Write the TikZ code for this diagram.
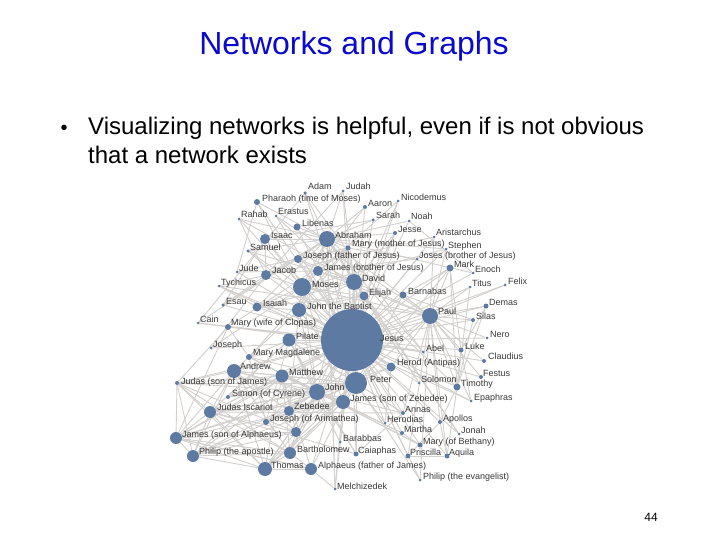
\documentclass[tikz,border=0pt]{standalone}
\usepackage{fontspec}
\setmainfont{Liberation Sans}
\usetikzlibrary{backgrounds}
\definecolor{titleblue}{RGB}{10,10,204}
\definecolor{nodeblue}{RGB}{92,122,162}
\definecolor{edgegray}{RGB}{210,207,204}
\tikzset{
  pnode/.style={circle,fill=nodeblue,draw=none,inner sep=0pt},
  lbl/.style={anchor=west,inner sep=0pt,text=black!78,font=\fontsize{9}{10}\selectfont,text height=6.5pt,text depth=1.5pt},
  edge/.style={draw=edgegray,line width=0.9pt},
  slide/.style={inner sep=0pt}
}
\newcommand\pn[7]{\node[pnode,minimum size=#4pt] (#1) at (#2,#3) {}; \node[lbl] (#1-t) at (#5,#6) {#7};}
\begin{document}
\begin{tikzpicture}[x=1pt,y=-1pt]
\useasboundingbox (0,0) rectangle (720,540);
% slide text
\node[slide,anchor=base,text=titleblue,font=\fontsize{32}{38}\selectfont] (title) at (354,55) {Networks and Graphs};
\node[slide,anchor=base,font=\fontsize{20}{24}\selectfont] (bul) at (64,135) {\textbullet};
\node[slide,anchor=base west,font=\fontsize{24}{29}\selectfont] (line1) at (88,135) {Visualizing networks is helpful, even if is not obvious};
\node[slide,anchor=base west,font=\fontsize{24}{29}\selectfont] (line2) at (88,164) {that a network exists};
\node[slide,anchor=base,font=\fontsize{12}{14}\selectfont] (pg) at (651,521) {44};
% people
\pn{adam}{305}{193}{3.5}{308}{187}{Adam}
\pn{judah}{343}{191}{3}{346}{187}{Judah}
\pn{pharaoh}{257}{202}{6}{262}{199}{Pharaoh (time of Moses)}
\pn{aaron}{365}{207}{4}{368}{204}{Aaron}
\pn{nicod}{398}{201}{3}{401}{198}{Nicodemus}
\pn{rahab}{239}{219}{3}{241}{215}{Rahab}
\pn{erastus}{276}{216}{3}{278}{212}{Erastus}
\pn{sarah}{373}{220}{3.5}{376}{216}{Sarah}
\pn{noah}{409}{221}{3}{411}{217}{Noah}
\pn{libn}{297}{227}{7}{302}{224}{Libenas}
\pn{abraham}{327}{239}{16}{335}{236}{Abraham}
\pn{isaac}{265}{239}{10}{271}{236}{Isaac}
\pn{jesse}{395}{233}{4}{398}{230}{Jesse}
\pn{arist}{434}{237}{3}{436}{233}{Aristarchus}
\pn{maryM}{348}{248}{5}{352}{244}{Mary (mother of Jesus)}
\pn{samuel}{248}{251}{3.5}{250}{248}{Samuel}
\pn{stephen}{446}{249}{3}{448}{246}{Stephen}
\pn{josephF}{298}{259}{8}{303}{256}{Joseph (father of Jesus)}
\pn{josesB}{417}{259}{3}{419}{256}{Joses (brother of Jesus)}
\pn{jude}{237}{272}{3}{239}{269}{Jude}
\pn{jacob}{266}{275}{10}{272}{271}{Jacob}
\pn{jamesB}{318}{271}{10}{324}{268}{James (brother of Jesus)}
\pn{mark}{450}{268}{7}{454}{265}{Mark}
\pn{enoch}{473}{273}{3}{475}{270}{Enoch}
\pn{david}{354}{282}{16}{362}{279}{David}
\pn{tych}{219}{286}{3}{221}{283}{Tychicus}
\pn{moses}{302}{287}{18}{312}{285}{Moses}
\pn{titus}{470}{287}{3}{472}{284}{Titus}
\pn{felix}{505}{285}{3}{508}{282}{Felix}
\pn{elijah}{364}{296}{9}{369}{293}{Elijah}
\pn{barn}{403}{295}{7}{408}{292}{Barnabas}
\pn{demas}{486}{306}{5}{489}{303}{Demas}
\pn{esau}{223}{305}{3.5}{226}{302}{Esau}
\pn{isaiah}{257}{307}{9}{263}{304}{Isaiah}
\pn{jbap}{299}{310}{14}{307}{307}{John the Baptist}
\pn{paul}{430}{316}{16}{438}{312}{Paul}
\pn{silas}{473}{320}{4}{476}{317}{Silas}
\pn{cain}{198}{323}{3}{200}{320}{Cain}
\pn{maryC}{228}{327}{6}{231}{323}{Mary (wife of Clopas)}
\pn{jesus}{352}{340}{62}{380}{339}{Jesus}
\pn{pilate}{289}{340}{13}{296}{337}{Pilate}
\pn{nero}{487}{338}{3}{490}{335}{Nero}
\pn{joseph}{211}{348}{3}{213}{345}{Joseph}
\pn{abel}{423}{352}{3}{426}{349}{Abel}
\pn{luke}{461}{350}{5}{465}{347}{Luke}
\pn{maryMag}{249}{357}{6}{253}{353}{Mary Magdalene}
\pn{claud}{484}{361}{4}{488}{357}{Claudius}
\pn{herod}{391}{367}{9}{397}{363}{Herod (Antipas)}
\pn{andrew}{234}{371}{14}{240}{367}{Andrew}
\pn{matthew}{282}{376}{13}{289}{373}{Matthew}
\pn{festus}{481}{377}{4}{483}{374}{Festus}
\pn{peter}{356}{383}{22}{370}{380}{Peter}
\pn{solomon}{419}{383}{3}{421}{380}{Solomon}
\pn{judasJ}{177}{383}{4}{181}{382}{Judas (son of James)}
\pn{john}{317}{392}{16}{325}{388}{John}
\pn{timothy}{457}{387}{7}{461}{384}{Timothy}
\pn{simonC}{228}{397}{4}{232}{394}{Simon (of Cyrene)}
\pn{jamesZ}{343}{402}{14}{350}{399}{James (son of Zebedee)}
\pn{epaph}{471}{401}{3}{474}{398}{Epaphras}
\pn{judasI}{210}{412}{12}{217}{408}{Judas Iscariot}
\pn{zeb}{289}{411}{10}{294}{407}{Zebedee}
\pn{annas}{403}{413}{4}{405}{410}{Annas}
\pn{josephA}{266}{422}{6}{270}{419}{Joseph (of Arimathea)}
\pn{herodias}{385}{423}{3}{387}{420}{Herodias}
\pn{apollos}{440}{422}{4}{443}{419}{Apollos}
\pn{martha}{402}{433}{4}{404}{430}{Martha}
\pn{jonah}{459}{434}{3}{461}{431}{Jonah}
\pn{jamesA}{176}{438}{12}{182}{435}{James (son of Alphaeus)}
\node[pnode,minimum size=10pt] (unl) at (296,432) {};
\pn{barab}{340}{442}{3}{343}{439}{Barabbas}
\pn{maryB}{420}{445}{5}{423}{442}{Mary (of Bethany)}
\pn{philipA}{193}{456}{12}{199}{452}{Philip (the apostle)}
\pn{barth}{290}{453}{12}{297}{450}{Bartholomew}
\pn{caiaphas}{356}{454}{5}{358}{451}{Caiaphas}
\pn{prisc}{408}{456}{5}{410}{453}{Priscilla}
\pn{aquila}{447}{456}{5}{449}{453}{Aquila}
\pn{thomas}{265}{469}{14}{271}{466}{Thomas}
\pn{alph}{311}{469}{12}{318}{466}{Alphaeus (father of James)}
\pn{philipE}{420}{480}{3}{423}{477}{Philip (the evangelist)}
\pn{melch}{335}{489}{3}{337}{487}{Melchizedek}
% connections
\begin{pgfonlayer}{background}
\foreach \b in {adam,judah,pharaoh,aaron,nicod,rahab,erastus,sarah,noah,libn,abraham,isaac,jesse,arist,maryM,samuel,stephen,josephF,josesB,jude,jacob,jamesB,mark,enoch,david,tych,moses,titus,felix,elijah,barn,demas,esau,isaiah,jbap,paul,silas,cain,maryC,pilate,nero,joseph,abel,luke,maryMag,claud,herod,andrew,matthew,festus,peter,solomon,judasJ,john,timothy,simonC,jamesZ,epaph,judasI,zeb,annas,josephA,herodias,apollos,martha,jonah,jamesA,unl,barab,maryB,philipA,barth,caiaphas,prisc,aquila,thomas,alph,philipE,melch}
  \draw[edge] (jesus) -- (\b);
\foreach \b in {isaac,sarah,jacob,moses,david,adam,noah,melch,pharaoh,rahab,libn,jesse,esau,judah,aaron,elijah,jbap,josephF,maryM,paul,samuel,isaiah,enoch,abel,cain,solomon,jonah,stephen}
  \draw[edge] (abraham) -- (\b);
\foreach \b in {aaron,pharaoh,elijah,david,jbap,isaiah,joseph,jacob,isaac,samuel,stephen,paul,peter,john,jamesZ,nicod}
  \draw[edge] (moses) -- (\b);
\foreach \b in {jesse,solomon,samuel,jbap,isaiah,elijah,judah,rahab,josephF,maryM,paul,peter}
  \draw[edge] (david) -- (\b);
\foreach \b in {barn,silas,timothy,titus,mark,luke,demas,felix,festus,aquila,prisc,apollos,epaph,tych,arist,stephen,erastus,claud,nero,peter,jamesB,john,herod,annas,philipE}
  \draw[edge] (paul) -- (\b);
\foreach \b in {andrew,john,jamesZ,matthew,thomas,philipA,barth,jamesA,judasJ,judasI,simonC,mark,barn,pilate,herod,caiaphas,annas,maryMag,jamesB,josephA,zeb,unl,alph,jbap,elijah,philipE}
  \draw[edge] (peter) -- (\b);
\foreach \a/\b in {andrew/john,andrew/jamesZ,andrew/matthew,andrew/thomas,andrew/philipA,andrew/barth,andrew/jamesA,andrew/judasJ,andrew/judasI,andrew/unl,andrew/jbap,andrew/zeb,
  john/jamesZ,john/matthew,john/thomas,john/philipA,john/barth,john/jamesA,john/judasJ,john/judasI,john/zeb,john/unl,
  jamesZ/matthew,jamesZ/thomas,jamesZ/philipA,jamesZ/barth,jamesZ/jamesA,jamesZ/judasI,jamesZ/zeb,
  matthew/thomas,matthew/philipA,matthew/barth,matthew/jamesA,matthew/judasJ,matthew/judasI,matthew/alph,matthew/unl,
  thomas/philipA,thomas/barth,thomas/jamesA,thomas/judasJ,thomas/judasI,thomas/unl,thomas/alph,
  philipA/barth,philipA/jamesA,philipA/judasJ,philipA/judasI,philipA/unl,
  barth/jamesA,barth/judasJ,barth/judasI,barth/unl,barth/alph,
  jamesA/judasJ,jamesA/judasI,jamesA/unl,jamesA/alph,judasJ/judasI,judasJ/unl,judasI/unl,
  john/maryM,john/maryMag,john/jbap,john/pilate,john/caiaphas,john/annas,john/martha,john/maryB,john/nicod,john/josephA,john/herod,
  jbap/herod,jbap/herodias,jbap/elijah,jbap/isaiah,jbap/maryM,
  pilate/herod,pilate/caiaphas,pilate/barab,pilate/josephA,pilate/maryMag,pilate/annas,pilate/judasI,pilate/simonC,
  maryMag/maryC,maryMag/maryM,maryMag/martha,maryMag/maryB,maryMag/josephA,maryC/maryM,maryC/jamesA,
  maryM/josephF,maryM/jamesB,maryM/josesB,maryM/jude,josephF/jacob,
  jamesB/jude,jamesB/josesB,jamesB/josephF,herod/herodias,martha/maryB,
  jacob/isaac,jacob/esau,jacob/joseph,jacob/judah,jacob/rahab,isaac/esau,isaac/sarah,
  elijah/isaiah,elijah/jonah,elijah/jesse,
  timothy/luke,timothy/mark,timothy/titus,timothy/silas,timothy/erastus,timothy/demas,timothy/apollos,timothy/aquila,
  luke/mark,luke/demas,luke/epaph,apollos/aquila,apollos/prisc,aquila/prisc,
  judasI/caiaphas,judasI/annas,caiaphas/annas,zeb/jamesZ,alph/jamesA,alph/melch,
  adam/cain,adam/abel,cain/abel,tych/arist,tych/epaph,barn/mark,barn/silas,
  maryC/judasJ,isaiah/tych,jude/pharaoh,jbap/zeb,melch/david,noah/enoch,abraham/melch}
  \draw[edge] (\a) -- (\b);
\end{pgfonlayer}
\end{tikzpicture}
\end{document}
